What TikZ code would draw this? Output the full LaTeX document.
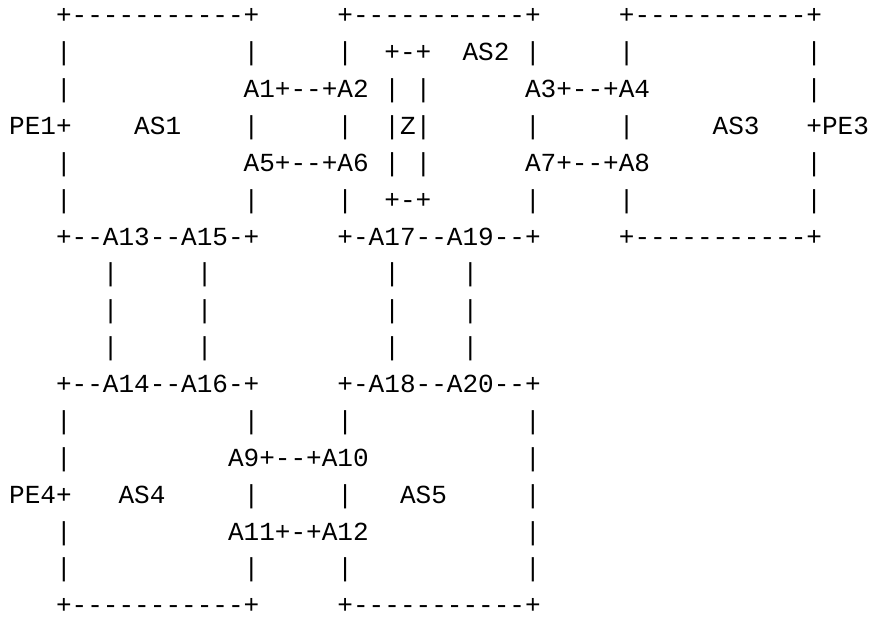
\documentclass[tikz,border=0pt]{standalone}
\usepackage{fontspec}
\usepackage{tikz}
\setmonofont{Liberation Mono}

\newcommand{\asciifont}{\ttfamily\fontsize{26.05}{31}\selectfont}

\begin{document}
\begin{tikzpicture}[x=1pt, y=-1pt, nodes={anchor=base west, inner sep=0pt, outer sep=0pt, font=\asciifont}]
    \useasboundingbox (0,0) rectangle (869,617);

    \node (row1)  at (9.2,23.8)  {~~~+-----------+~~~~~+-----------+~~~~~+-----------+};
    \node (row2)  at (9.2,60.7)  {~~~|~~~~~~~~~~~|~~~~~|~~+-+~~AS2~|~~~~~|~~~~~~~~~~~|};
    \node (row3)  at (9.2,97.6)  {~~~|~~~~~~~~~~~A1+--+A2~|~|~~~~~~A3+--+A4~~~~~~~~~~|};
    \node (row4)  at (9.2,134.4) {PE1+~~~~AS1~~~~|~~~~~|~~|Z|~~~~~~|~~~~~|~~~~~AS3~~~+PE3};
    \node (row5)  at (9.2,171.3) {~~~|~~~~~~~~~~~A5+--+A6~|~|~~~~~~A7+--+A8~~~~~~~~~~|};
    \node (row6)  at (9.2,208.2) {~~~|~~~~~~~~~~~|~~~~~|~~+-+~~~~~~|~~~~~|~~~~~~~~~~~|};
    \node (row7)  at (9.2,245.1) {~~~+--A13--A15-+~~~~~+-A17--A19--+~~~~~+-----------+};
    \node (row8)  at (9.2,281.9) {~~~~~~|~~~~~|~~~~~~~~~~~|~~~~|};
    \node (row9)  at (9.2,318.8) {~~~~~~|~~~~~|~~~~~~~~~~~|~~~~|};
    \node (row10) at (9.2,355.7) {~~~~~~|~~~~~|~~~~~~~~~~~|~~~~|};
    \node (row11) at (9.2,392.6) {~~~+--A14--A16-+~~~~~+-A18--A20--+};
    \node (row12) at (9.2,429.4) {~~~|~~~~~~~~~~~|~~~~~|~~~~~~~~~~~|};
    \node (row13) at (9.2,466.3) {~~~|~~~~~~~~~~A9+--+A10~~~~~~~~~~|};
    \node (row14) at (9.2,503.2) {PE4+~~~AS4~~~~~|~~~~~|~~~AS5~~~~~|};
    \node (row15) at (9.2,540.1) {~~~|~~~~~~~~~~A11+-+A12~~~~~~~~~~|};
    \node (row16) at (9.2,576.9) {~~~|~~~~~~~~~~~|~~~~~|~~~~~~~~~~~|};
    \node (row17) at (9.2,613.8) {~~~+-----------+~~~~~+-----------+};
\end{tikzpicture}
\end{document}
